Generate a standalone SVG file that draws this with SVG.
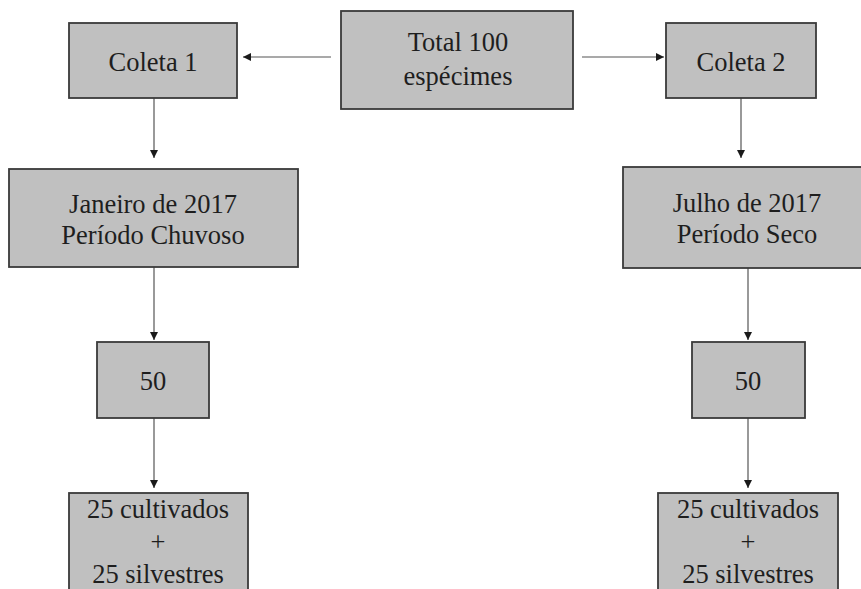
<svg xmlns="http://www.w3.org/2000/svg" width="861" height="589" viewBox="0 0 861 589">
<defs>
<marker id="ah" viewBox="0 0 10 10" refX="10" refY="5" markerWidth="8" markerHeight="8" markerUnits="userSpaceOnUse" orient="auto">
<path d="M0,0 L10,5 L0,10 Z" fill="#1a1a1a"/>
</marker>
<style>
.box{fill:#c0c0c0;stroke:#3a3a3a;stroke-width:1.8}
.t{font-family:'Liberation Serif','Times New Roman','DejaVu Serif',serif;font-size:26.5px;fill:#1e1e1e;text-anchor:middle}
.c{stroke:#555;stroke-width:1.2;fill:none;marker-end:url(#ah)}
</style>
</defs>
<rect width="861" height="589" fill="#ffffff"/>
<g id="connectors">
<line class="c" x1="331" y1="57" x2="243" y2="57"/>
<line class="c" x1="582" y1="57" x2="664" y2="57"/>
<line class="c" x1="154" y1="98" x2="154" y2="158"/>
<line class="c" x1="741" y1="98" x2="741" y2="158"/>
<line class="c" x1="154" y1="267" x2="154" y2="340"/>
<line class="c" x1="748" y1="268" x2="748" y2="340"/>
<line class="c" x1="154" y1="418" x2="154" y2="488"/>
<line class="c" x1="748" y1="418" x2="748" y2="488"/>
</g>
<g id="total">
<rect class="box" x="341" y="11" width="232" height="98"/>
<text class="t" x="458" y="51" font-family="Liberation Serif, serif">Total 100</text>
<text class="t" x="458" y="85" font-family="Liberation Serif, serif">espécimes</text>
</g>
<g id="coleta1">
<rect class="box" x="69" y="23" width="168" height="75"/>
<text class="t" x="153" y="71">Coleta 1</text>
</g>
<g id="coleta2">
<rect class="box" x="666" y="23" width="150" height="75"/>
<text class="t" x="741" y="71">Coleta 2</text>
</g>
<g id="janeiro">
<rect class="box" x="9" y="169" width="289" height="98"/>
<text class="t" x="153" y="213">Janeiro de 2017</text>
<text class="t" x="153" y="244">Período Chuvoso</text>
</g>
<g id="julho">
<rect class="box" x="623" y="167" width="248" height="101"/>
<text class="t" x="747" y="212">Julho de 2017</text>
<text class="t" x="747" y="243">Período Seco</text>
</g>
<g id="n50a">
<rect class="box" x="97" y="342" width="112" height="76"/>
<text class="t" x="153" y="390">50</text>
</g>
<g id="n50b">
<rect class="box" x="692" y="342" width="113" height="76"/>
<text class="t" x="748" y="390">50</text>
</g>
<g id="grupo1">
<rect class="box" x="69" y="493" width="179" height="110"/>
<text class="t" x="158" y="518">25 cultivados</text>
<text class="t" x="158" y="551">+</text>
<text class="t" x="158" y="583">25 silvestres</text>
</g>
<g id="grupo2">
<rect class="box" x="658" y="493" width="180" height="110"/>
<text class="t" x="748" y="518">25 cultivados</text>
<text class="t" x="748" y="551">+</text>
<text class="t" x="748" y="583">25 silvestres</text>
</g>
</svg>
